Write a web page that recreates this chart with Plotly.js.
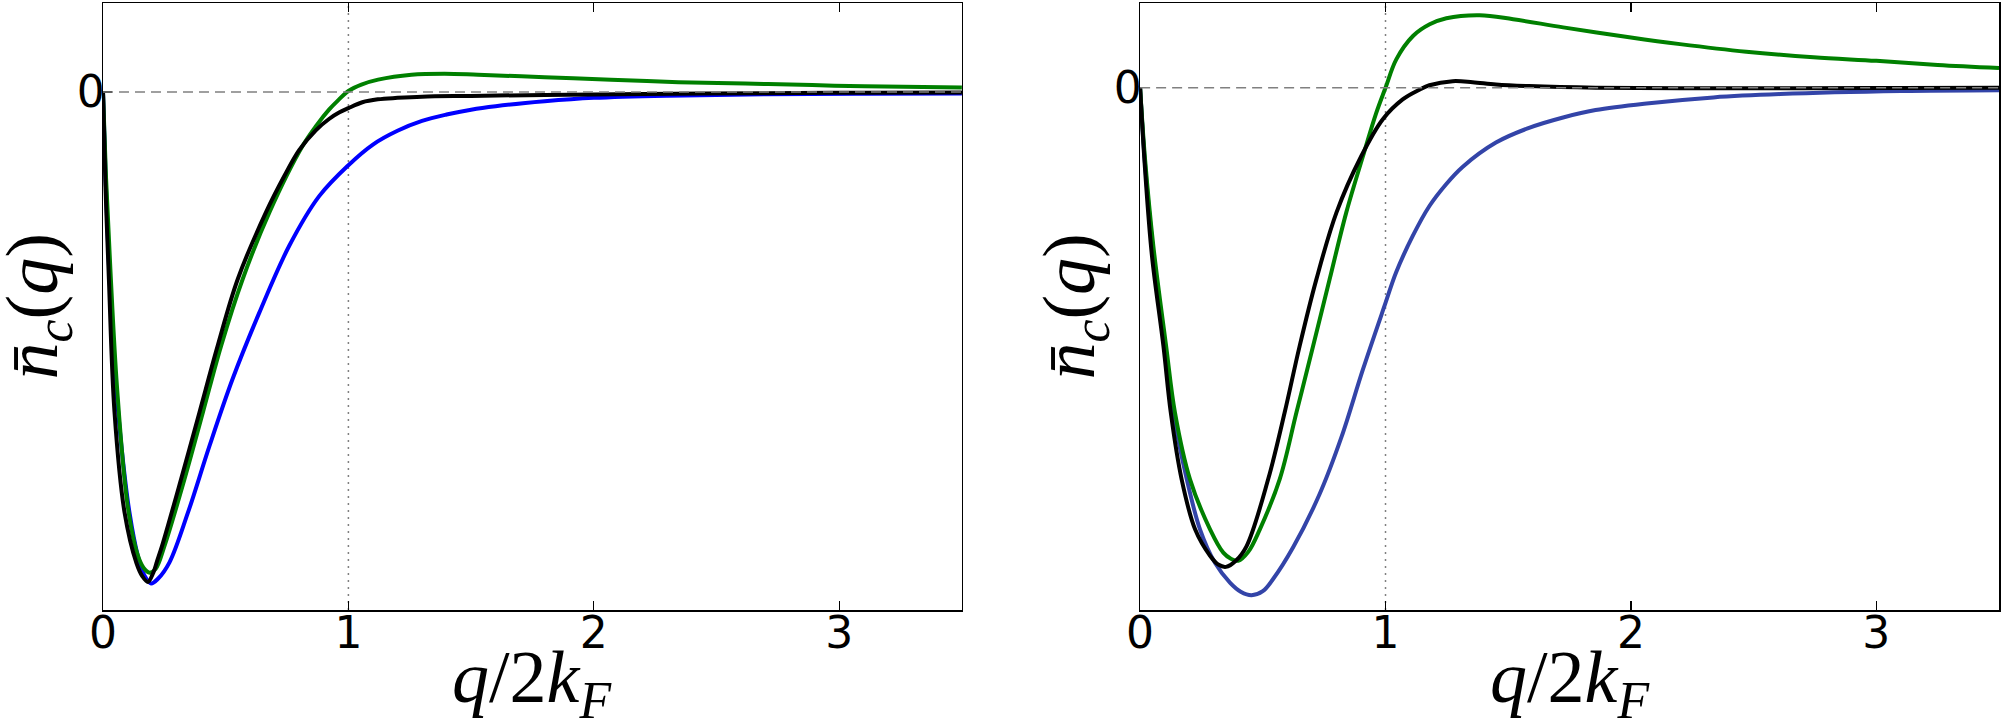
<!DOCTYPE html>
<html>
<head>
<meta charset="utf-8">
<script src="https://cdn.plot.ly/plotly-3.0.1.min.js"></script>
<style>
  html, body { margin: 0; padding: 0; background: #fff; }
  #chart { width: 2001px; height: 722px; }
</style>
</head>
<body>
<div id="chart"></div>
<script>
// y in units of the deepest (blue) minimum
const leftBlueX  = [0, 0.011, 0.027, 0.051, 0.075, 0.108, 0.142, 0.17, 0.196, 0.225, 0.271, 0.346, 0.434, 0.528, 0.637, 0.759, 0.881, 1.0, 1.1, 1.2, 1.3, 1.4, 1.5, 1.6, 1.8, 2.0, 2.3, 2.7, 3.1, 3.5];
const leftBlueY  = [0, -0.178, -0.381, -0.584, -0.72, -0.856, -0.944, -0.985, -1.0, -0.99, -0.957, -0.856, -0.72, -0.584, -0.449, -0.313, -0.212, -0.149, -0.107, -0.079, -0.059, -0.046, -0.036, -0.029, -0.019, -0.012, -0.0075, -0.0048, -0.0036, -0.003];

const leftBlackX = [0, 0.01, 0.024, 0.047, 0.088, 0.136, 0.16, 0.183, 0.205, 0.22, 0.241, 0.318, 0.393, 0.467, 0.549, 0.664, 0.74, 0.80, 0.867, 0.921, 0.962, 1.0, 1.057, 1.12, 1.2, 1.3, 1.5, 1.8, 2.2, 2.7, 3.1, 3.5];
const leftBlackY = [0, -0.19, -0.381, -0.652, -0.856, -0.958, -0.985, -0.997, -0.978, -0.955, -0.923, -0.788, -0.652, -0.517, -0.381, -0.245, -0.17, -0.118, -0.078, -0.055, -0.042, -0.033, -0.021, -0.015, -0.012, -0.0095, -0.008, -0.006, -0.004, -0.0025, -0.0015, -0.001];

const leftGreenX = [0, 0.012, 0.03, 0.057, 0.10, 0.14, 0.165, 0.19, 0.215, 0.251, 0.332, 0.407, 0.481, 0.569, 0.678, 0.813, 0.87, 0.921, 0.96, 1.0, 1.053, 1.121, 1.257, 1.392, 1.528, 1.80, 2.07, 2.345, 2.617, 2.89, 3.104, 3.5];
const leftGreenY = [0, -0.17, -0.36, -0.6, -0.84, -0.94, -0.968, -0.978, -0.97, -0.923, -0.788, -0.652, -0.517, -0.381, -0.245, -0.11, -0.068, -0.036, -0.016, 0.002, 0.015, 0.025, 0.035, 0.037, 0.035, 0.030, 0.025, 0.020, 0.017, 0.014, 0.0115, 0.009];

const rightBlueX  = [0, 0.02, 0.051, 0.102, 0.136, 0.19, 0.244, 0.305, 0.366, 0.41, 0.454, 0.50, 0.542, 0.623, 0.732, 0.82, 0.908, 1.0, 1.043, 1.111, 1.179, 1.247, 1.314, 1.45, 1.585, 1.72, 1.856, 2.064, 2.336, 2.608, 3.1, 3.5];
const rightBlueY  = [0, -0.15, -0.312, -0.509, -0.64, -0.771, -0.87, -0.936, -0.975, -0.993, -1.0, -0.992, -0.968, -0.906, -0.80, -0.689, -0.555, -0.424, -0.364, -0.292, -0.233, -0.190, -0.156, -0.108, -0.079, -0.059, -0.044, -0.031, -0.019, -0.0125, -0.0066, -0.005];

const rightBlackX = [0, 0.02, 0.048, 0.095, 0.125, 0.169, 0.224, 0.285, 0.32, 0.35, 0.39, 0.434, 0.522, 0.589, 0.65, 0.718, 0.80, 0.901, 0.989, 1.07, 1.138, 1.179, 1.274, 1.355, 1.45, 1.585, 1.856, 2.2, 2.7, 3.1, 3.5];
const rightBlackY = [0, -0.16, -0.33, -0.509, -0.64, -0.771, -0.87, -0.922, -0.94, -0.944, -0.932, -0.903, -0.771, -0.64, -0.509, -0.378, -0.246, -0.135, -0.062, -0.023, -0.004, 0.005, 0.013, 0.011, 0.0066, 0.0033, 0, -0.001, -0.001, -0.0005, 0];

const rightGreenX = [0, 0.02, 0.054, 0.106, 0.142, 0.203, 0.285, 0.339, 0.37, 0.40, 0.44, 0.488, 0.569, 0.637, 0.705, 0.772, 0.84, 0.908, 0.962, 1.0, 1.044, 1.112, 1.18, 1.248, 1.384, 1.52, 1.724, 2.0, 2.2, 2.47, 2.744, 3.0, 3.25, 3.5];
const rightGreenY = [0, -0.14, -0.312, -0.509, -0.64, -0.771, -0.87, -0.916, -0.928, -0.932, -0.915, -0.87, -0.771, -0.64, -0.509, -0.378, -0.246, -0.135, -0.05, 0.0, 0.056, 0.102, 0.125, 0.137, 0.143, 0.135, 0.119, 0.099, 0.086, 0.071, 0.060, 0.053, 0.045, 0.039];

const xTicks = [0, 1, 2, 3];
const yTicks = [0];
const yTickText = ['0'];
const refX = 1;   // q = 2kF
const refY = 0;
const xLabel = '<i>q</i>/2<i>k</i><sub><i>F</i></sub>';
const yLabel = '<i>n̄</i><sub><i>c</i></sub>(<i>q</i>)';

const tickFont = { family: 'DejaVu Sans', size: 44, color: '#000' };
const mathFont = { family: 'Liberation Serif', size: 74, color: '#000' };
const lw = 4;

function curve(x, y, color, xa, ya) {
    return {
        x: x, y: y, xaxis: xa, yaxis: ya,
        type: 'scatter', mode: 'lines',
        line: { color: color, width: lw, shape: 'spline', smoothing: 1 },
        hoverinfo: 'skip', showlegend: false
    };
}

const data = [
    curve(leftBlueX, leftBlueY, '#0000ff', 'x', 'y'),
    curve(leftGreenX, leftGreenY, '#008000', 'x', 'y'),
    curve(leftBlackX, leftBlackY, '#000000', 'x', 'y'),
    curve(rightBlueX, rightBlueY, '#3344a8', 'x2', 'y2'),
    curve(rightGreenX, rightGreenY, '#008000', 'x2', 'y2'),
    curve(rightBlackX, rightBlackY, '#000000', 'x2', 'y2')
];

function xAxis(domain, anchor) {
    return {
        domain: domain, anchor: anchor, range: [0, 3.5],
        tickvals: xTicks, ticks: 'inside', ticklen: 9, tickwidth: 1.2, tickcolor: '#000',
        mirror: 'ticks', showline: true, linecolor: '#000', linewidth: 1.5,
        showgrid: false, zeroline: false, tickfont: tickFont, ticklabelstandoff: -16
    };
}

function yAxis(range, anchor) {
    return {
        anchor: anchor, range: range, domain: [0, 1],
        tickvals: yTicks, ticktext: yTickText, ticks: 'inside', ticklen: 9, tickwidth: 1.2, tickcolor: '#000',
        mirror: 'ticks', showline: true, linecolor: '#000', linewidth: 1.5,
        showgrid: false, zeroline: false, tickfont: tickFont, ticklabelstandoff: -12
    };
}

// axis labels as annotations so they can sit exactly where matplotlib put them
function labels(xa, ya) {
    return [
        { text: xLabel, font: mathFont, showarrow: false,
          xref: xa + ' domain', x: 0.5, xanchor: 'center',
          yref: ya + ' domain', y: 0, yanchor: 'top', yshift: -24 },
        { text: yLabel, font: mathFont, showarrow: false, textangle: -90,
          xref: xa + ' domain', x: 0, xanchor: 'center', xshift: -66,
          yref: ya + ' domain', y: 0.5, yanchor: 'middle' }
    ];
}

function refLines(xa, ya) {
    return [
        { type: 'line', xref: xa + ' domain', yref: ya, x0: 0, x1: 1, y0: refY, y1: refY,
          line: { color: '#808080', width: 1.5, dash: '10px,6px' } },
        { type: 'line', xref: xa, yref: ya + ' domain', x0: refX, x1: refX, y0: 0, y1: 1,
          line: { color: '#808080', width: 1.5, dash: '2px,5px' }, layer: 'below' }
    ];
}

const layout = {
    width: 2001, height: 722,
    margin: { l: 103, r: 2, t: 3, b: 112 },
    paper_bgcolor: '#fff', plot_bgcolor: '#fff',
    xaxis: xAxis([0, 0.453], 'y'),
    yaxis: yAxis([-1.054, 0.181], 'x'),
    xaxis2: xAxis([0.547, 1], 'y2'),
    yaxis2: yAxis([-1.029, 0.167], 'x2'),
    shapes: refLines('x', 'y').concat(refLines('x2', 'y2')),
    annotations: labels('x', 'y').concat(labels('x2', 'y2'))
};

Plotly.newPlot('chart', data, layout, { staticPlot: true });
</script>
</body>
</html>
